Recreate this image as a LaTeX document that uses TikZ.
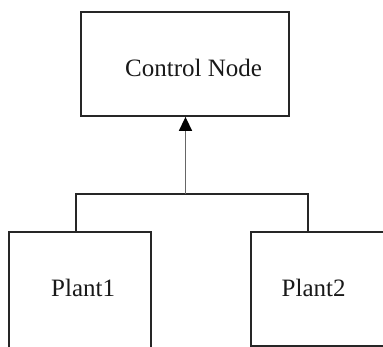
\documentclass[tikz,border=0pt]{standalone}
\usepackage{fontspec}
\setmainfont{Liberation Serif}
\usetikzlibrary{arrows.meta,calc}
\begin{document}
\begin{tikzpicture}[x=1pt,y=-1pt,
  boxst/.style={draw=black!85,line width=1.8pt,rectangle,inner sep=0pt,fill=none},
  lbl/.style={inner sep=0pt,text=black!90,font=\fontsize{25}{30}\selectfont},
  conn/.style={draw=black!85,line width=1.8pt},
  arr/.style={draw=black!60,line width=1.5pt,-{Triangle[length=14pt,width=13pt,fill=black,color=black]}}]
\useasboundingbox (0,0) rectangle (383,347);
\clip (0,0) rectangle (383,347);
\fill[white] (0,0) rectangle (383,347);
% boxes
\node[boxst,minimum width=208pt,minimum height=104pt] (ctrl) at (185,64) {};
\node[boxst,minimum width=142pt,minimum height=150pt] (p1) at (80,307) {};
\node[boxst,minimum width=144pt,minimum height=113.7pt] (p2) at (323,289) {};
% labels
\node[lbl,anchor=base west] (tc) at (125,76.7) {Control Node};
\node[lbl,anchor=base west] (t1) at (51,296.7) {Plant1};
\node[lbl,anchor=base west] (t2) at (281.5,296.7) {Plant2};
% connectors
\coordinate (j) at (185.5,194.3);
\draw[conn] ($(p1.north west)+(67.5,0)$) |- (j) -| ($(p2.north west)+(57.5,0)$);
\draw[arr] (j) -- (j |- ctrl.south);
\end{tikzpicture}
\end{document}
